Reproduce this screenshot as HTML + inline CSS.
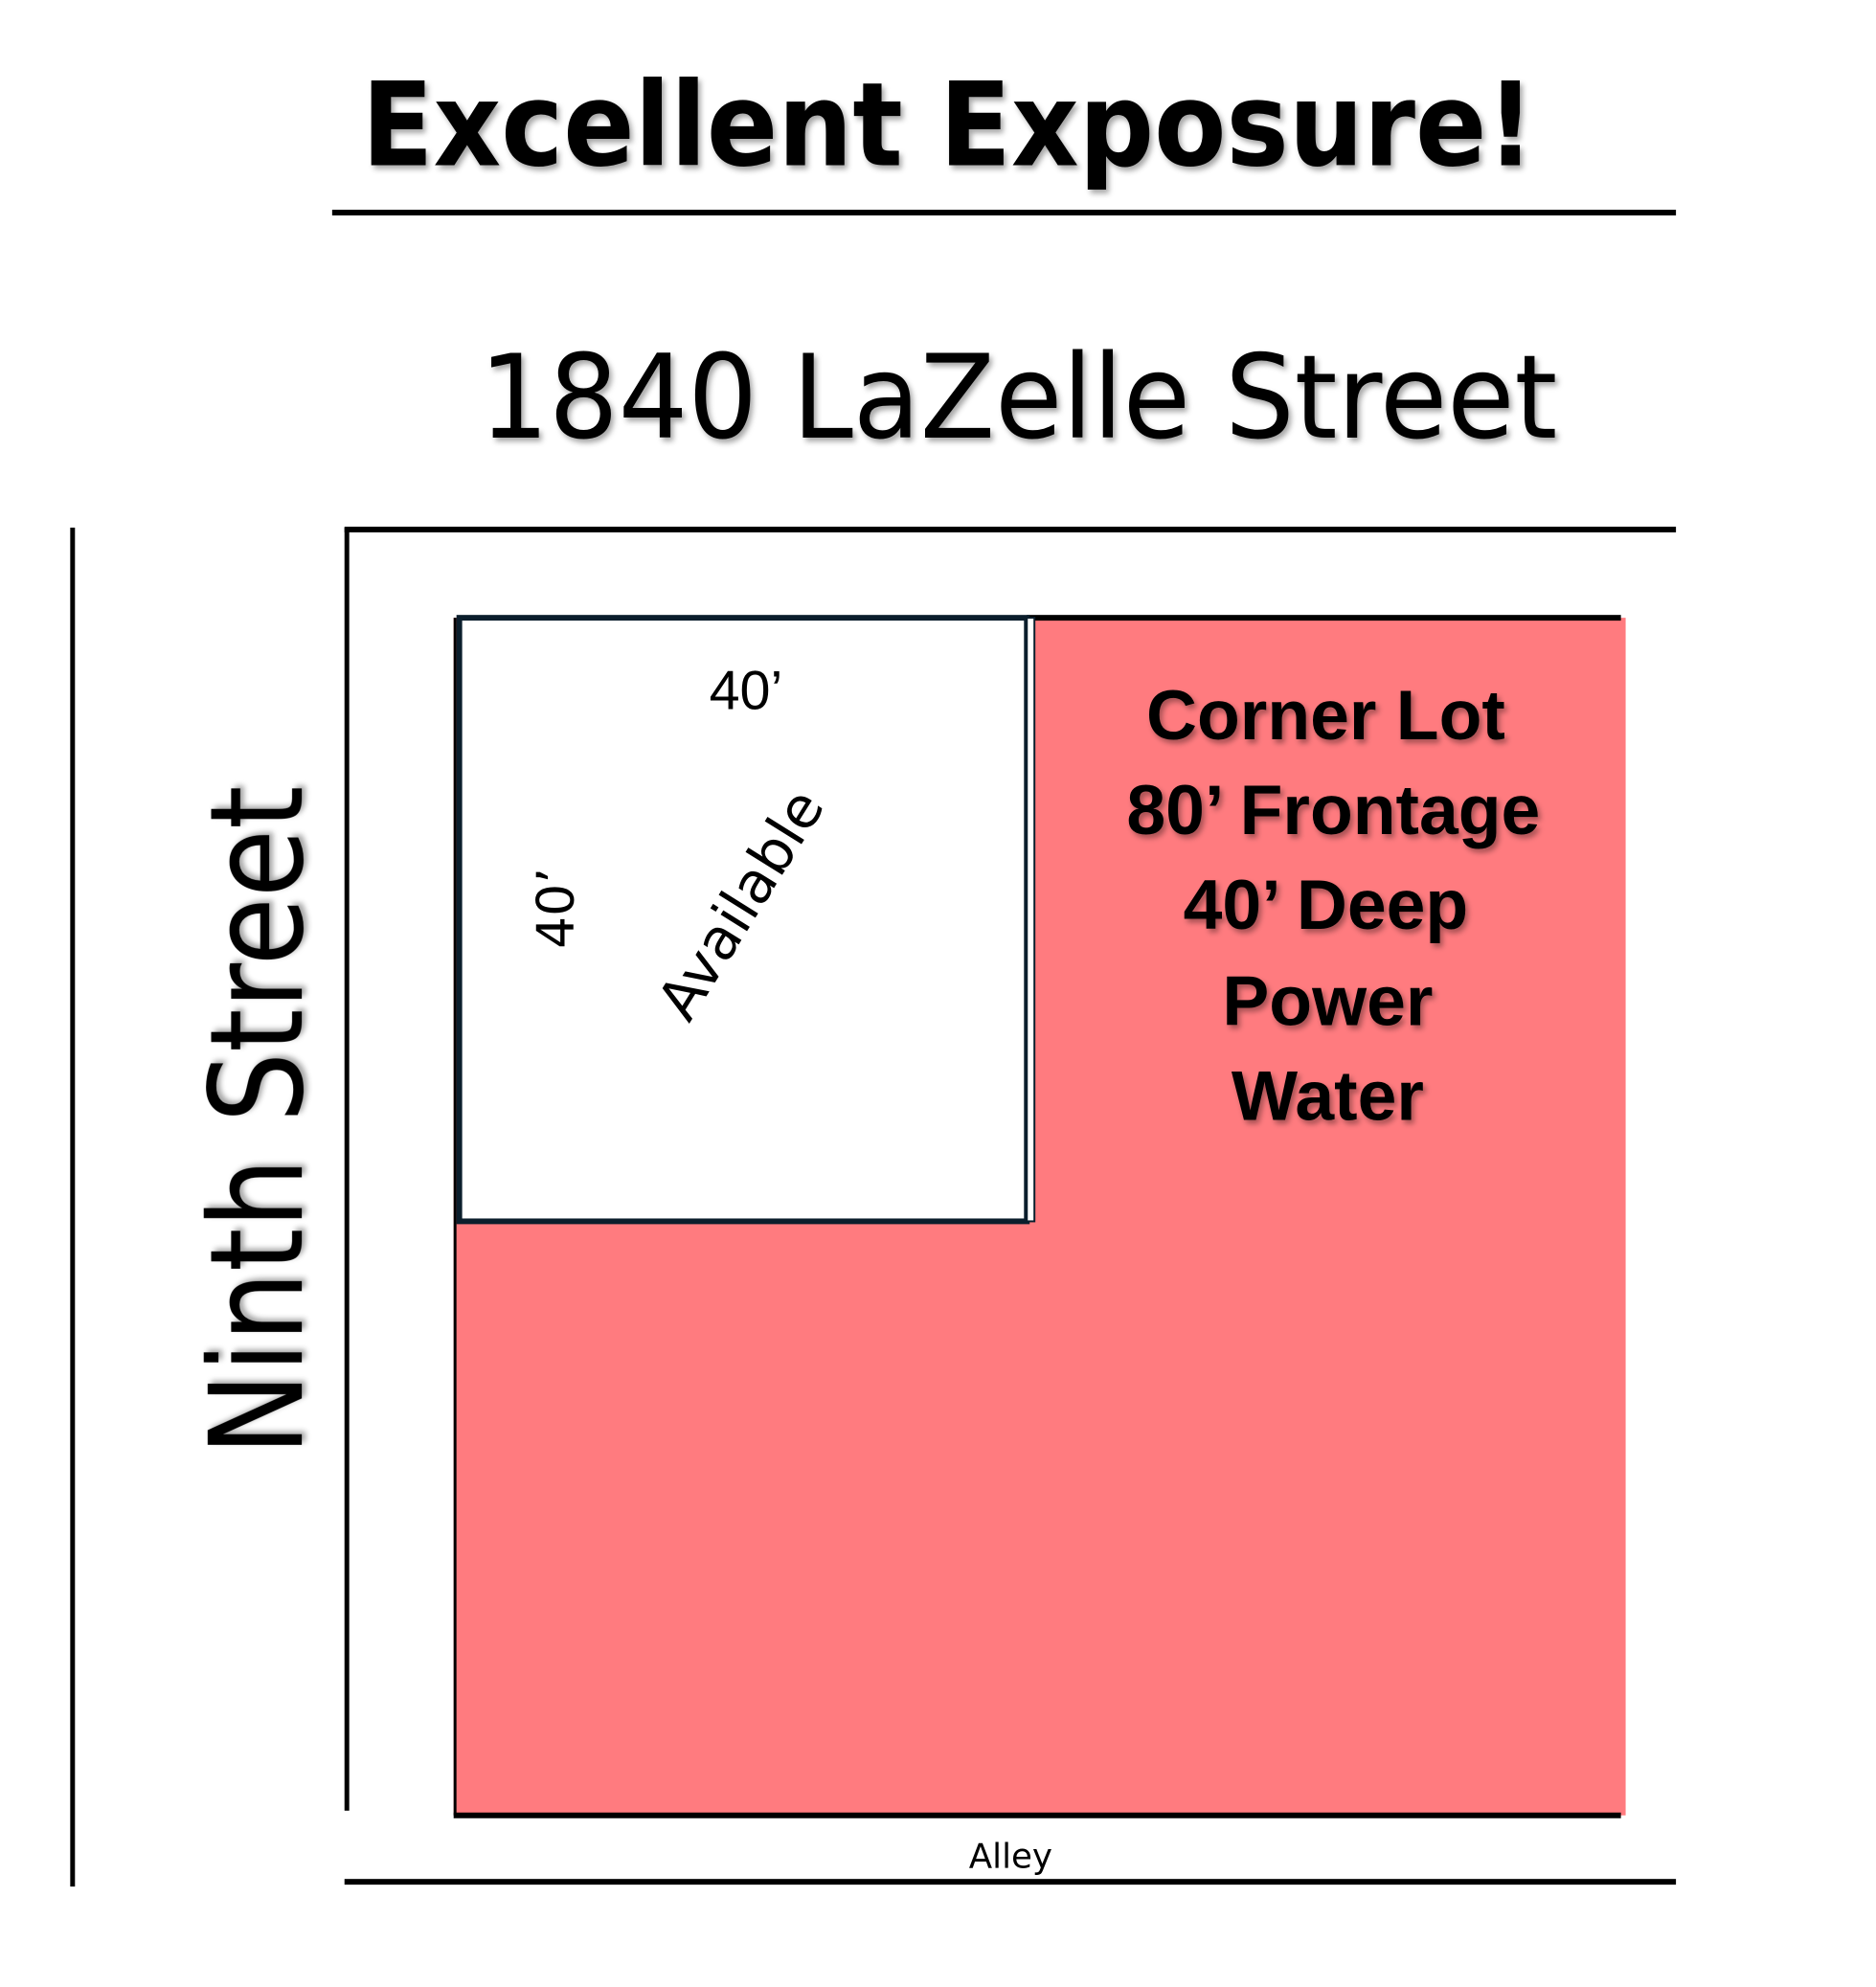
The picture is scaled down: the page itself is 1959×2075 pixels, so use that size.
<!DOCTYPE html>
<html><head><meta charset="utf-8"><style>html,body{margin:0;padding:0;background:#fff}svg{display:block}</style></head>
<body>
<svg width="1959" height="2075" viewBox="0 0 1959 2075" xmlns="http://www.w3.org/2000/svg">
<defs><filter id="sh" x="-10%" y="-10%" width="120%" height="130%"><feDropShadow dx="3" dy="4" stdDeviation="3" flood-color="#000" flood-opacity="0.35"/></filter></defs>
<g transform="scale(0.991)">
<text x="381" y="174" font-family="DejaVu Sans, sans-serif" font-weight="bold" font-size="122" textLength="1236" lengthAdjust="spacingAndGlyphs" fill="#000" filter="url(#sh)">Excellent Exposure!</text>
<rect x="350" y="221" width="1416" height="6" fill="#000"/>
<text x="505" y="461" font-family="DejaVu Sans, sans-serif" font-size="122" textLength="1136" lengthAdjust="spacingAndGlyphs" fill="#000" filter="url(#sh)">1840 LaZelle Street</text>
<rect x="74" y="556" width="5" height="1432" fill="#000"/>
<rect x="363" y="556" width="5" height="1352" fill="#000"/>
<rect x="363" y="555" width="1403" height="6" fill="#000"/>
<rect x="363" y="1980" width="1403" height="6" fill="#000"/>
<rect x="478" y="651" width="1235" height="1262" fill="#FF7B7F"/>
<rect x="1082" y="648" width="626" height="6" fill="#000"/>
<rect x="478" y="1910" width="1230" height="6" fill="#000"/>
<rect x="478" y="651" width="3" height="1262" fill="#000"/>
<rect x="484" y="651" width="598" height="636" fill="#fff" stroke="#0b1e2c" stroke-width="6"/>
<rect x="1082" y="651" width="8" height="636" fill="#fff" stroke="#0b1e2c" stroke-width="2"/>
<text x="786" y="747" text-anchor="middle" font-family="Liberation Sans, sans-serif" font-size="58" fill="#000">40’</text>
<text transform="translate(604,957) rotate(-90)" text-anchor="middle" font-family="DejaVu Sans, sans-serif" font-size="54" fill="#000">40’</text>
<text transform="translate(798,964) rotate(-58)" text-anchor="middle" font-family="DejaVu Sans, sans-serif" font-size="60" fill="#000">Available</text>
<g font-family="Liberation Sans, sans-serif" font-weight="bold" font-size="74" text-anchor="middle" fill="#000" filter="url(#sh)">
<text x="1397" y="779">Corner Lot</text>
<text x="1405" y="879">80’ Frontage</text>
<text x="1397" y="979">40’  Deep</text>
<text x="1399" y="1080">Power</text>
<text x="1399" y="1180">Water</text>
</g>
<text transform="translate(318,1181) rotate(-90)" text-anchor="middle" font-family="DejaVu Sans, sans-serif" font-size="136" textLength="706" lengthAdjust="spacingAndGlyphs" fill="#000" filter="url(#sh)">Ninth Street</text>
<text x="1065" y="1968" text-anchor="middle" font-family="DejaVu Sans, sans-serif" font-size="36" fill="#000">Alley</text>
</g>
</svg>
</body></html>
